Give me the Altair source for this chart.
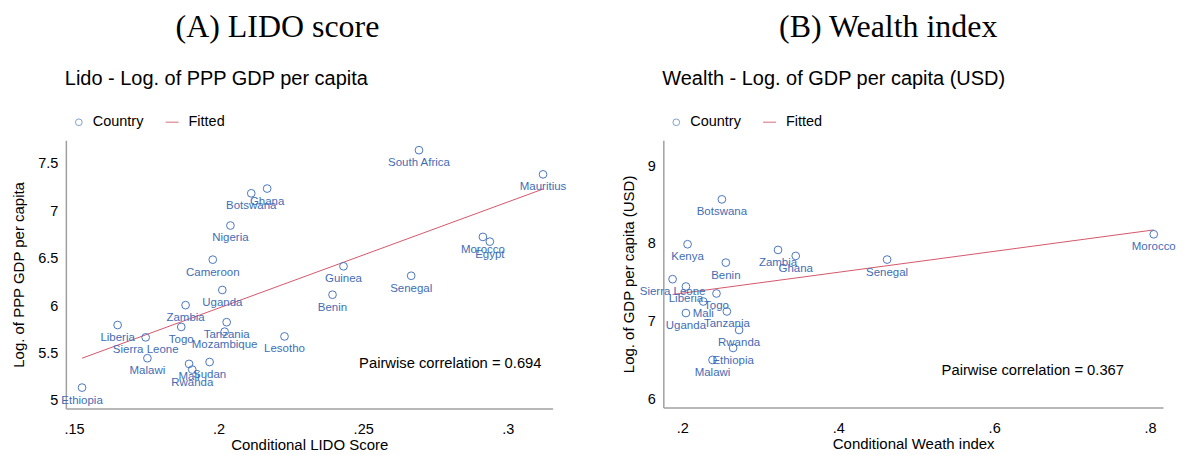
import altair as alt
import pandas as pd

# ---------------- Panel A data (LIDO score) ----------------
countries_a = ["Ethiopia", "Liberia", "Sierra Leone", "Malawi", "Zambia", "Togo",
               "Uganda", "Tanzania", "Mozambique", "Mali", "Rwanda", "Sudan",
               "Lesotho", "Cameroon", "Nigeria", "Botswana", "Ghana",
               "South Africa", "Mauritius", "Morocco", "Egypt", "Guinea",
               "Senegal", "Benin"]
lido_a = [0.1528, 0.1651, 0.1748, 0.1754, 0.1886, 0.1871, 0.2013, 0.2028,
          0.2021, 0.1898, 0.1909, 0.1969, 0.2228, 0.1980, 0.2041, 0.2113,
          0.2168, 0.2693, 0.3122, 0.2914, 0.2938, 0.2432, 0.2666, 0.2394]
gdp_a = [5.14, 5.80, 5.67, 5.45, 6.01, 5.78, 6.17, 5.83, 5.73, 5.39, 5.33,
         5.41, 5.68, 6.49, 6.85, 7.19, 7.24, 7.645, 7.39, 6.73, 6.68, 6.42,
         6.32, 6.12]
fit_x_a = [0.1528, 0.3122]
fit_y_a = [5.45, 7.235]

# ---------------- Panel B data (Wealth index) ----------------
countries_b = ["Botswana", "Kenya", "Benin", "Zambia", "Ghana", "Senegal",
               "Morocco", "Sierra Leone", "Liberia", "Togo", "Mali", "Uganda",
               "Tanzania", "Rwanda", "Ethiopia", "Malawi"]
wealth_b = [0.2508, 0.2068, 0.2559, 0.3228, 0.3455, 0.4627, 0.8047, 0.1876,
            0.2047, 0.2439, 0.2269, 0.2047, 0.2572, 0.2729, 0.2652, 0.2388]
gdp_b = [8.573, 7.996, 7.760, 7.923, 7.846, 7.799, 8.124, 7.547, 7.453,
         7.363, 7.260, 7.112, 7.132, 6.894, 6.663, 6.509]
fit_x_b = [0.1876, 0.8047]
fit_y_b = [7.35, 8.18]

BLUE = "#4a76bd"
LABEL_BLUE = "#3f6db5"
RED = "#d4576b"
SANS = "Liberation Sans"
SERIF = "Liberation Serif"


def one(txt):
    return alt.Chart(pd.DataFrame({"t": [txt]}))


def panel(countries, xs, ys, fx, fy, xdom, ydom, xticks, yticks,
          xtitle, ytitle, subtitle, corr, corr_pos, title, title_dx, w, h):
    df = pd.DataFrame({"country": countries, "x": xs, "y": ys})
    fit = pd.DataFrame({"x": fx, "y": fy})
    xscale = alt.Scale(domain=xdom, zero=False, nice=False)
    yscale = alt.Scale(domain=ydom, zero=False, nice=False)
    xaxis = alt.Axis(values=xticks, title=xtitle, grid=False, ticks=False,
                     labelExpr="substring(format(datum.value, '.2~f'), 1)",
                     labelFont=SANS, labelFontSize=14.5, labelColor="black",
                     labelPadding=14, titleFont=SANS, titleFontSize=15,
                     titleFontWeight="normal", titleColor="black",
                     titlePadding=2, domainColor="#a0a0a0", domainWidth=1.5)
    yaxis = alt.Axis(values=yticks, title=ytitle, grid=False, ticks=False,
                     labelExpr="format(datum.value, '~g')",
                     labelFont=SANS, labelFontSize=14.5, labelColor="black",
                     labelPadding=8, titleFont=SANS, titleFontSize=15,
                     titleFontWeight="normal", titleColor="black",
                     titlePadding=11, domainColor="#a0a0a0", domainWidth=1.5)

    pts = alt.Chart(df).mark_point(filled=False, size=60, color=BLUE,
                                   strokeWidth=1, opacity=1).encode(
        x=alt.X("x:Q", scale=xscale, axis=xaxis),
        y=alt.Y("y:Q", scale=yscale, axis=yaxis),
    )
    labels = alt.Chart(df).mark_text(font=SANS, fontSize=11.5, color=LABEL_BLUE,
                                     dy=13, baseline="middle").encode(
        x="x:Q", y="y:Q", text="country:N")
    line = alt.Chart(fit).mark_line(color=RED, strokeWidth=1).encode(
        x="x:Q", y="y:Q")

    sub = one(subtitle).mark_text(font=SANS, fontSize=20, align="left",
                                  baseline="middle", color="black").encode(
        x=alt.value(-1), y=alt.value(-61), text="t:N")
    leg_pt = one("c").mark_point(filled=False, size=45, color=BLUE,
                                 strokeWidth=1).encode(
        x=alt.value(13), y=alt.value(-18))
    leg_t1 = one("Country").mark_text(font=SANS, fontSize=14.5, align="left",
                                      baseline="middle", color="black").encode(
        x=alt.value(27), y=alt.value(-18), text="t:N")
    leg_ln = one("l").mark_rule(color=RED, strokeWidth=1.5, opacity=0.6).encode(
        x=alt.value(100), x2=alt.value(113), y=alt.value(-18))
    leg_t2 = one("Fitted").mark_text(font=SANS, fontSize=14.5, align="left",
                                     baseline="middle", color="black").encode(
        x=alt.value(123), y=alt.value(-18), text="t:N")
    corr_t = one(corr).mark_text(font=SANS, fontSize=14.8, align="left",
                                 baseline="middle", color="black").encode(
        x=alt.value(corr_pos[0]), y=alt.value(corr_pos[1]), text="t:N")

    return alt.layer(line, pts, labels, sub, leg_pt, leg_t1, leg_ln, leg_t2,
                     corr_t).properties(
        width=w, height=h,
        title=alt.TitleParams(title, font=SERIF, fontSize=32,
                              fontWeight="normal", color="black",
                              anchor="start", frame="group", dx=title_dx,
                              offset=25))


pa = panel(countries_a, lido_a, gdp_a, fit_x_a, fit_y_a,
           [0.1472, 0.3155], [4.919, 7.75],
           [0.15, 0.2, 0.25, 0.3], [5, 5.5, 6, 6.5, 7, 7.5],
           "Conditional LIDO Score", "Log. of PPP GDP per capita",
           "Lido - Log. of PPP GDP per capita",
           "Pairwise correlation = 0.694", (294, 224),
           "(A) LIDO score", 110, 488, 269)

pb = panel(countries_b, wealth_b, gdp_b, fit_x_b, fit_y_b,
           [0.1757, 0.8166], [5.897, 9.333],
           [0.2, 0.4, 0.6, 0.8], [6, 7, 8, 9],
           "Conditional Weath index", "Log. of GDP per capita (USD)",
           "Wealth - Log. of GDP per capita (USD)",
           "Pairwise correlation = 0.367", (279, 231),
           "(B) Wealth index", 116, 501, 268)

chart = alt.hconcat(pa, pb, spacing=111, bounds="flush").configure_view(
    stroke=None).properties(
    padding={"left": 3, "top": 3, "right": 0, "bottom": 0},
    background="white")

chart.save("out.html", embed_options={"renderer": "svg", "actions": False})
